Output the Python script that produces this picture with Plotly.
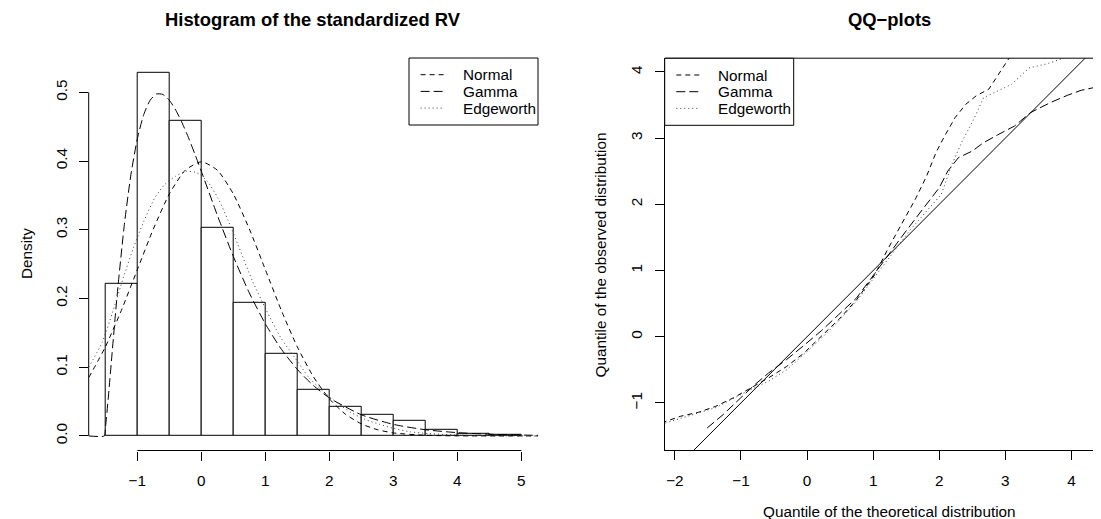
import plotly.graph_objects as go

W, H = 1101, 519
FONT = "Liberation Sans, Arial, Helvetica, sans-serif"
FS = 15.3
TITLE_FS = 18.4

# ---------------- Left panel data (histogram + densities) ----------------
bin_left = [-1.5, -1.0, -0.5, 0.0, 0.5, 1.0, 1.5, 2.0, 2.5, 3.0, 3.5, 4.0, 4.5]
bin_width = 0.5
bar_density = [0.222, 0.529, 0.458, 0.303, 0.194, 0.120, 0.067, 0.042,
               0.0305, 0.0213, 0.0095, 0.0025, 0.001]

normal_x = [-1.76, -1.5, -1.25, -1.0, -0.75, -0.5, -0.25, 0.0, 0.25, 0.5, 0.75,
            1.0, 1.25, 1.5, 1.75, 2.0, 2.25, 2.5, 2.75, 3.0, 3.5, 4.0, 5.26]
normal_y = [0.0848, 0.1295, 0.1826, 0.2420, 0.3011, 0.3521, 0.3867, 0.3989,
            0.3867, 0.3521, 0.3011, 0.2420, 0.1826, 0.1295, 0.0863, 0.0540,
            0.0317, 0.0175, 0.0091, 0.0044, 0.0009, 0.0001, 0.0]

gamma_x = [-1.76, -1.516, -1.5, -1.45, -1.4, -1.35, -1.3, -1.2, -1.1, -1.0, -0.9,
           -0.8, -0.7, -0.6, -0.5, -0.4, -0.3, -0.2, -0.1, 0.0, 0.25, 0.5, 0.75,
           1.0, 1.25, 1.5, 1.75, 2.0, 2.5, 3.0, 3.5, 4.0, 4.5, 5.0, 5.26]
gamma_y = [0.0, 0.0, 0.0105, 0.0596, 0.1145, 0.1688, 0.2201, 0.3098, 0.3804,
           0.4324, 0.4676, 0.4885, 0.4976, 0.4968, 0.4884, 0.4741, 0.4554,
           0.4338, 0.4099, 0.3850, 0.3211, 0.2611, 0.2080, 0.1631, 0.1262,
           0.0967, 0.0734, 0.0553, 0.0308, 0.0168, 0.0090, 0.0048, 0.0025,
           0.0013, 0.0009]

edge_x = [-1.76, -1.55, -1.39, -1.22, -1.06, -0.90, -0.73, -0.57, -0.40, -0.24,
          -0.07, 0.09, 0.26, 0.42, 0.59, 0.80, 1.02, 1.24, 1.46, 1.68, 1.90,
          2.12, 2.34, 2.56, 2.78, 3.00, 3.27, 3.55, 4.10, 4.60, 5.26]
edge_y = [0.100, 0.136, 0.179, 0.230, 0.274, 0.312, 0.346, 0.366, 0.378, 0.385,
          0.383, 0.371, 0.346, 0.313, 0.274, 0.225, 0.182, 0.143, 0.114, 0.085,
          0.065, 0.048, 0.034, 0.024, 0.017, 0.011, 0.006, 0.0034, 0.001,
          0.0003, 0.0]

hist_xticks = [-1, 0, 1, 2, 3, 4, 5]
hist_xlabels = ["\u22121", "0", "1", "2", "3", "4", "5"]
hist_yticks = [0.0, 0.1, 0.2, 0.3, 0.4, 0.5]
hist_ylabels = ["0.0", "0.1", "0.2", "0.3", "0.4", "0.5"]

# ---------------- Right panel data (QQ-plots) ----------------
qq_normal_x = [-2.20, -1.91, -1.64, -1.38, -1.11, -0.90, -0.58, -0.31, -0.05,
               0.27, 0.48, 0.75, 1.02, 1.23, 1.44, 1.65, 1.81, 1.95, 2.08,
               2.24, 2.40, 2.56, 2.75, 2.88, 3.06, 3.15]
qq_normal_y = [-1.30, -1.20, -1.14, -1.05, -0.92, -0.80, -0.62, -0.45, -0.25,
               0.06, 0.26, 0.56, 0.93, 1.34, 1.72, 2.10, 2.43, 2.78, 3.03,
               3.31, 3.51, 3.64, 3.74, 3.94, 4.22, 4.35]

qq_gamma_x = [-1.511, -1.27, -1.005, -0.79, -0.58, -0.31, -0.05, 0.22, 0.48,
              0.75, 1.02, 1.23, 1.44, 1.65, 1.87, 2.00, 2.13, 2.29, 2.50, 2.67,
              2.88, 3.14, 3.38, 3.68, 3.94, 4.15, 4.34, 4.45, 4.60]
qq_gamma_y = [-1.378, -1.176, -0.924, -0.723, -0.546, -0.345, -0.133, 0.094,
              0.336, 0.588, 0.95, 1.243, 1.52, 1.797, 2.075, 2.251, 2.503,
              2.705, 2.805, 2.931, 3.047, 3.183, 3.385, 3.536, 3.647, 3.723,
              3.763, 3.889, 3.93]

qq_edge_x = [-2.20, -1.91, -1.64, -1.38, -1.11, -0.90, -0.58, -0.31, -0.05,
             0.22, 0.48, 0.75, 1.02, 1.28, 1.55, 1.81, 2.03, 2.19, 2.35, 2.51,
             2.67, 2.88, 3.09, 3.36, 3.62, 3.89, 4.0]
qq_edge_y = [-1.32, -1.23, -1.15, -1.07, -0.93, -0.82, -0.67, -0.50, -0.27,
             -0.02, 0.24, 0.54, 0.90, 1.24, 1.60, 1.90, 2.15, 2.60, 2.96, 3.26,
             3.61, 3.71, 3.81, 4.06, 4.12, 4.21, 4.25]

ref_x = [-3.0, 5.0]
ref_y = [-3.0, 5.0]

qq_xticks = [-2, -1, 0, 1, 2, 3, 4]
qq_xlabels = ["\u22122", "\u22121", "0", "1", "2", "3", "4"]
qq_yticks = [-1, 0, 1, 2, 3, 4]
qq_ylabels = ["\u22121", "0", "1", "2", "3", "4"]

legend_names = ["Normal", "Gamma", "Edgeworth"]

# ---------------- styles ----------------
DASH_NORMAL = "5px,4px"
DASH_GAMMA = "9px,4px"
DASH_EDGE = "1px,3px"
EDGE_COLOR = "#3a3a3a"
dashes = [DASH_NORMAL, DASH_GAMMA, DASH_EDGE]
colors = ["black", "black", EDGE_COLOR]


def px(xp):
    return xp / W


def py(yp):
    return 1 - yp / H


fig = go.Figure()

# Histogram bars
bar_centers = [b + bin_width / 2 for b in bin_left]
fig.add_trace(go.Bar(x=bar_centers, y=bar_density, width=bin_width,
                     marker=dict(color="white", line=dict(color="black", width=1)),
                     xaxis="x", yaxis="y", showlegend=False, hoverinfo="skip"))

for xs, ys, d, c in [(normal_x, normal_y, DASH_NORMAL, "black"),
                     (gamma_x, gamma_y, DASH_GAMMA, "black"),
                     (edge_x, edge_y, DASH_EDGE, EDGE_COLOR)]:
    fig.add_trace(go.Scatter(x=xs, y=ys, mode="lines",
                             line=dict(color=c, width=1, dash=d, shape="spline",
                                       smoothing=0.6),
                             xaxis="x", yaxis="y", showlegend=False))

# QQ plots
fig.add_trace(go.Scatter(x=ref_x, y=ref_y, mode="lines",
                         line=dict(color="black", width=1),
                         xaxis="x2", yaxis="y2", showlegend=False))
for xs, ys, d, c in [(qq_normal_x, qq_normal_y, DASH_NORMAL, "black"),
                     (qq_gamma_x, qq_gamma_y, DASH_GAMMA, "black"),
                     (qq_edge_x, qq_edge_y, DASH_EDGE, EDGE_COLOR)]:
    fig.add_trace(go.Scatter(x=xs, y=ys, mode="lines",
                             line=dict(color=c, width=1, dash=d),
                             xaxis="x2", yaxis="y2", showlegend=False))

axis_common = dict(showgrid=False, zeroline=False, ticks="outside", ticklen=9,
                   tickwidth=1, tickcolor="black",
                   tickfont=dict(family=FONT, size=FS, color="black"),
                   fixedrange=True)

fig.update_layout(
    width=W, height=H,
    margin=dict(l=0, r=0, t=0, b=0),
    paper_bgcolor="white", plot_bgcolor="white",
    showlegend=False,
    bargap=0,
    xaxis=dict(domain=[px(80.7), px(530)], range=[-1.76, 5.26],
               tickmode="array", tickvals=hist_xticks, ticktext=hist_xlabels,
               showline=False, ticklabelstandoff=7, anchor="y", **axis_common),
    yaxis=dict(domain=[py(442.5), py(49.8)], range=[-0.0212, 0.5502],
               tickmode="array", tickvals=hist_yticks, ticktext=hist_ylabels,
               tickangle=-90, showline=False, ticklabelstandoff=6, anchor="x",
               **axis_common),
    xaxis2=dict(domain=[px(657), 1.0], range=[-2.149, 4.568],
                tickmode="array", tickvals=qq_xticks, ticktext=qq_xlabels,
                showline=True, linecolor="black", linewidth=1,
                ticklabelstandoff=7, anchor="y2", **axis_common),
    yaxis2=dict(domain=[py(442.3), py(50.2)], range=[-1.715, 4.207],
                tickmode="array", tickvals=qq_yticks, ticktext=qq_ylabels,
                tickangle=-90, showline=True, linecolor="black", linewidth=1,
                ticklabelstandoff=7, anchor="x2", **axis_common),
)

shapes = []
# left panel axis lines (R style, only between extreme ticks)
shapes.append(dict(type="line", xref="x domain", yref="y", x0=0, x1=0,
                   y0=hist_yticks[0], y1=hist_yticks[-1],
                   line=dict(color="black", width=1)))
shapes.append(dict(type="line", xref="x", yref="y domain", x0=hist_xticks[0],
                   x1=hist_xticks[-1], y0=0, y1=0,
                   line=dict(color="black", width=1)))
# right panel top border
shapes.append(dict(type="line", xref="x2 domain", yref="y2 domain", x0=0, x1=1,
                   y0=1, y1=1, line=dict(color="black", width=1)))

annotations = []


def add_legend(box_left, box_top):
    box_w, box_h = 129, 67
    shapes.append(dict(type="rect", xref="paper", yref="paper",
                       x0=px(box_left), x1=px(box_left + box_w),
                       y0=py(box_top + box_h), y1=py(box_top),
                       line=dict(color="black", width=1), fillcolor="white"))
    for i, name in enumerate(legend_names):
        yy = box_top + 16.7 + 16.7 * i
        shapes.append(dict(type="line", xref="paper", yref="paper",
                           x0=px(box_left + 11.6), x1=px(box_left + 35),
                           y0=py(yy), y1=py(yy),
                           line=dict(color=colors[i], width=1, dash=dashes[i])))
        annotations.append(dict(xref="paper", yref="paper", x=px(box_left + 51.5),
                                y=py(yy), text=name, showarrow=False,
                                xanchor="left", yanchor="middle",
                                font=dict(family=FONT, size=FS, color="black")))


add_legend(401, 50)
add_legend(656.7, 50.3)

# titles and axis labels
annotations.append(dict(xref="paper", yref="paper", x=px(305.4), y=py(12),
                        text="<b>Histogram of the standardized RV</b>",
                        showarrow=False, xanchor="center", yanchor="middle",
                        font=dict(family=FONT, size=TITLE_FS, color="black")))
annotations.append(dict(xref="paper", yref="paper", x=px(881), y=py(12),
                        text="<b>QQ\u2212plots</b>", showarrow=False,
                        xanchor="center", yanchor="middle",
                        font=dict(family=FONT, size=TITLE_FS, color="black")))
annotations.append(dict(xref="paper", yref="paper", x=px(18), y=py(246),
                        text="Density", textangle=-90, showarrow=False,
                        xanchor="center", yanchor="middle",
                        font=dict(family=FONT, size=FS, color="black")))
annotations.append(dict(xref="paper", yref="paper", x=px(592), y=py(246.5),
                        text="Quantile of the observed distribution",
                        textangle=-90, showarrow=False,
                        xanchor="center", yanchor="middle",
                        font=dict(family=FONT, size=FS, color="black")))
annotations.append(dict(xref="paper", yref="paper", x=px(881), y=py(503),
                        text="Quantile of the theoretical distribution",
                        showarrow=False, xanchor="center", yanchor="middle",
                        font=dict(family=FONT, size=FS, color="black")))

fig.update_layout(shapes=shapes, annotations=annotations)

fig.write_html("out.html")
